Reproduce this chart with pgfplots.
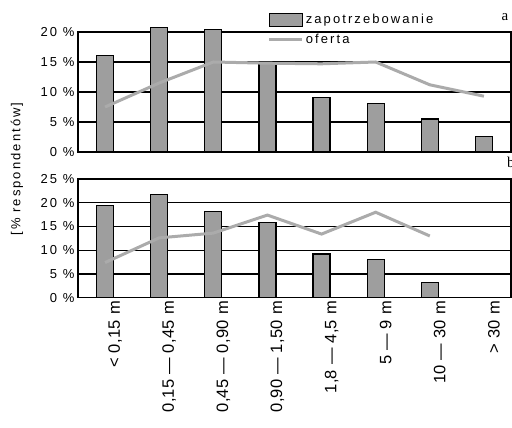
\documentclass[border=0pt]{standalone}
\usepackage{pgfplots}
\pgfplotsset{compat=1.18}
\usepackage{fontspec}
\setmainfont[LetterSpace=16]{Liberation Sans}
\newfontfamily\xfont[LetterSpace=2]{Liberation Sans}
\newfontfamily\seriffont{Liberation Serif}
\definecolor{barfill}{HTML}{9E9E9E}
\definecolor{linegray}{HTML}{ABABAB}
\pgfplotsset{
  common/.style={
    scale only axis, width=433pt, anchor=south west,
    xmin=-0.5, xmax=7.5, ymin=0, clip=false,
    ytick distance=5, ymajorgrids,
    grid style={black, line width=1.4pt},
    axis line style={black, line width=1.4pt},
    major tick length=0pt,
    /pgf/number format/assume math mode=true,
    yticklabel={\pgfmathprintnumber{\tick} \%},
    tick label style={font=\fontsize{13}{15}\selectfont},
  },
  barstyle/.style={ybar, bar width=17pt, fill=barfill, draw=black, line width=1.2pt},
  linestyle/.style={color=linegray, line width=3pt, mark=none},
}
\begin{document}
\begin{tikzpicture}[x=1pt,y=1pt]
\useasboundingbox (0pt,0pt) rectangle (512pt,428pt);
\begin{axis}[common, at={(78pt,276pt)}, height=120pt, ymax=20, xtick=\empty,
  legend style={at={(rel axis cs:0.438,1.167)}, anchor=north west, draw=none, fill=none,
    inner sep=0pt, font=\fontsize{13}{15}\selectfont, row sep=5pt,
    /tikz/every even column/.append style={column sep=9pt}},
  legend cell align=left]
\addplot[barstyle, legend image code/.code={\draw[fill=barfill, draw=black, line width=1.2pt] (0pt,-6.5pt) rectangle (33pt,6.5pt);}]
  coordinates {(0,16.1) (1,20.7) (2,20.4) (3,15.1) (4,9.1) (5,8.05) (6,5.5) (7,2.6)};
\addlegendentry{zapotrzebowanie}
\addplot[linestyle, legend image code/.code={\draw[color=linegray, line width=3pt] (0pt,0pt) -- (33pt,0pt);}]
  coordinates {(0,7.5) (1,11.5) (2,15) (3,14.8) (4,14.7) (5,15) (6,11.2) (7,9.3)};
\addlegendentry{oferta}
\end{axis}
\begin{axis}[common, at={(78pt,130.3pt)}, height=118.7pt, ymax=25,
  xtick={0,...,7},
  xticklabels={{< 0,15 m},{0,15 — 0,45 m},{0,45 — 0,90 m},{0,90 — 1,50 m},{1,8 — 4,5 m},{5 — 9 m},{10 — 30 m},{> 30 m}},
  xticklabel style={rotate=90, anchor=east, yshift=-10pt, font=\fontsize{16.5}{18}\xfont}]
\addplot[barstyle] coordinates {(0,19.4) (1,21.8) (2,18.1) (3,15.8) (4,9.2) (5,8.1) (6,3.2)};
\addplot[linestyle] coordinates {(0,7.4) (1,12.6) (2,13.6) (3,17.4) (4,13.4) (5,18) (6,13.0)};
\end{axis}
\node[anchor=center, font=\fontsize{15}{17}\seriffont] at (505pt,411pt) {a};
\node[anchor=west, inner sep=0pt, font=\fontsize{15}{17}\seriffont] at (507pt,266pt) {b};
\node[rotate=90, font=\fontsize{13}{15}\selectfont] at (17pt,259pt) {[\% respondentów]};
\end{tikzpicture}
\end{document}
